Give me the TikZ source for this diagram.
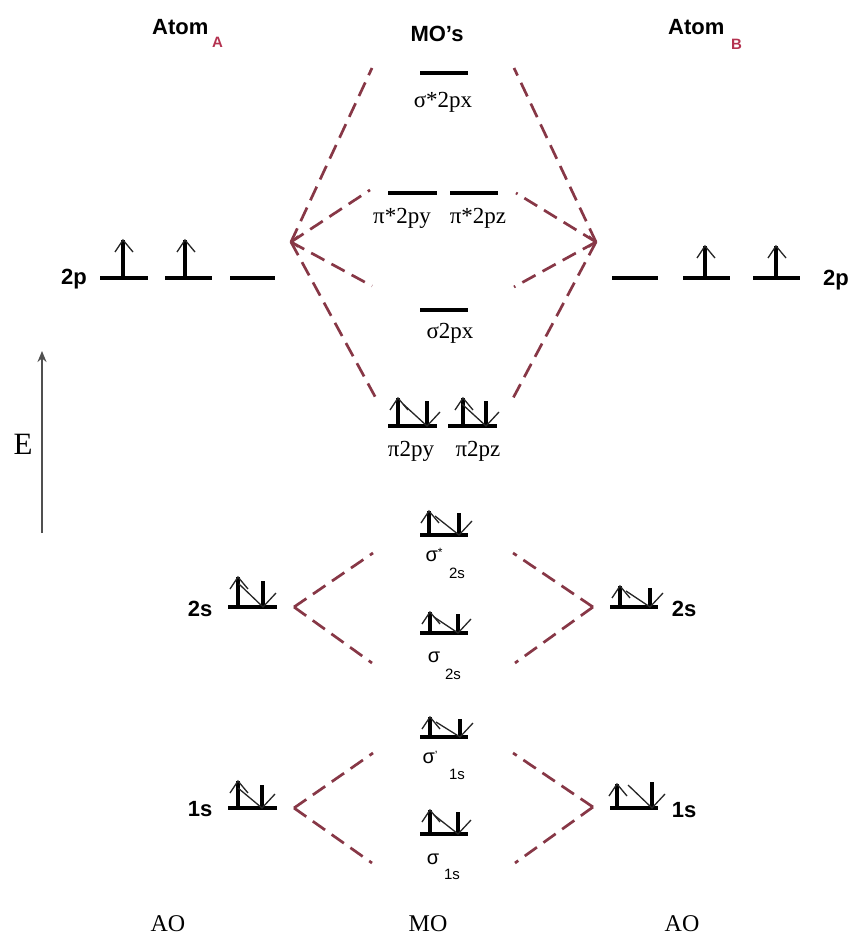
\documentclass[tikz,border=0pt]{standalone}
\usepackage{fontspec}
\setmainfont{Liberation Serif}
\setsansfont{Liberation Sans}
\usetikzlibrary{arrows.meta}
\definecolor{dashc}{RGB}{135,55,70}
\definecolor{subred}{RGB}{180,50,80}
\definecolor{egray}{RGB}{80,80,80}
\tikzset{
  level/.style={line width=3.4pt,black},
  spin/.style={line width=3.8pt,black},
  barb/.style={line width=1.3pt,black!85},
  corr/.style={dashc,line width=2.7pt,dash pattern=on 15pt off 8pt},
  aolab/.style={font=\sffamily\bfseries\fontsize{22}{24}\selectfont,inner sep=0pt},
  title/.style={font=\sffamily\bfseries\fontsize{22}{24}\selectfont,inner sep=0pt},
  subttl/.style={font=\sffamily\bfseries\fontsize{15}{16}\selectfont,inner sep=0pt,text=subred},
  molab/.style={font=\fontsize{23}{25}\selectfont,inner sep=0pt},
  sglab/.style={font=\sffamily\fontsize{20}{22}\selectfont,inner sep=0pt},
  sgsub/.style={font=\sffamily\fontsize{15}{17}\selectfont,inner sep=0pt},
  botlab/.style={font=\fontsize{24}{26}\selectfont,inner sep=0pt}
}
\newcommand\spup[3]{%
  \draw[spin] (#1,#2) -- (#1,#2-#3);
  \draw[barb] (#1-8,#2-#3+12) -- (#1,#2-#3) -- (#1+10,#2-#3+12);}
\newcommand\spdown[3]{%
  \draw[spin] (#1,#2-#3+2) -- (#1,#2);
  \draw[barb] (#1-24,#2-#3+5) -- (#1,#2) -- (#1+13,#2-14);}
\begin{document}
\begin{tikzpicture}[x=1pt,y=-1pt]
\useasboundingbox[fill=white] (0,0) rectangle (851,941);

% titles
\node[title,anchor=base west] (atA) at (152,35) {Atom};
\node[subttl,anchor=base west] (subA) at (212,48) {A};
\node[title] (mos) at (437,34) {MO's};
\node[title,anchor=base west] (atB) at (668,35) {Atom};
\node[subttl,anchor=base west] (subB) at (731,50) {B};

% energy axis
\coordinate (Ebot) at (42,533);
\coordinate (Etop) at (42,351);
\draw[egray,line width=1.6pt,-{Stealth[length=11pt,width=9pt]}] (Ebot) -- (Etop);
\node[font=\fontsize{31}{33}\selectfont,inner sep=0pt] (E) at (23,444) {E};

% ---------- 2p atom A ----------
\node[aolab] (l2pA) at (74,279) {2p};
\draw[level] (100,278) -- (148,278);
\draw[level] (165,278) -- (212,278);
\draw[level] (230,278) -- (275,278);
\spup{123}{278}{38}
\spup{185}{278}{38}
% ---------- 2p atom B ----------
\node[aolab] (l2pB) at (836,280) {2p};
\draw[level] (612,278) -- (658,278);
\draw[level] (683,278) -- (730,278);
\draw[level] (753,278) -- (800,278);
\spup{705}{278}{32}
\spup{776}{278}{32}

% ---------- MOs from 2p ----------
\draw[level] (420,73) -- (468,73);
\node[molab] (ss2px) at (443,102) {σ*2px};
\draw[level] (388,193) -- (437,193);
\draw[level] (450,193) -- (498,193);
\node[molab] (ps2py) at (402,218) {π*2py};
\node[molab] (ps2pz) at (478,218) {π*2pz};
\draw[level] (420,310) -- (468,310);
\node[molab] (s2px) at (450,333) {σ2px};
\draw[level] (388,426) -- (437,426);
\draw[level] (448,426) -- (497,426);
\spup{398}{426}{28}
\spdown{427}{426}{27}
\spup{463}{426}{28}
\spdown{486}{426}{27}
\node[molab] (p2py) at (411,451) {π2py};
\node[molab] (p2pz) at (478,451) {π2pz};

% correlation lines 2p
\coordinate (cA2p) at (291,242);
\coordinate (cB2p) at (596,242);
\coordinate (tA1) at (372,68);
\coordinate (tA2) at (370,190);
\coordinate (tA3) at (372,286);
\coordinate (tA4) at (378,402);
\coordinate (tB1) at (514,68);
\coordinate (tB2) at (516,193);
\coordinate (tB3) at (514,287);
\coordinate (tB4) at (511,402);
\foreach \t in {tA1,tA2,tA3,tA4} \draw[corr] (cA2p) -- (\t);
\foreach \t in {tB1,tB2,tB3,tB4} \draw[corr] (cB2p) -- (\t);
\draw[dashc,line width=1.6pt] ([shift={(7,-6)}]cA2p) -- (cA2p) -- ([shift={(7,5)}]cA2p);
\draw[dashc,line width=1.6pt] ([shift={(-7,-6)}]cB2p) -- (cB2p) -- ([shift={(-7,5)}]cB2p);

% ---------- 2s ----------
\node[aolab] (l2sA) at (200,609) {2s};
\draw[level] (228,607) -- (277,607);
\spup{238}{607}{30}
\spdown{263}{607}{28}
\node[aolab] (l2sB) at (684,609) {2s};
\draw[level] (610,607) -- (658,607);
\spup{620}{607}{21}
\spdown{650}{607}{21}

\draw[level] (420,535) -- (468,535);
\spup{429}{535}{24}
\spdown{459}{535}{24}
\node[sglab] (ss2s) at (434,555) {σ\raisebox{5pt}{\fontsize{12}{12}\selectfont*}};
\node[sgsub] (ss2ssub) at (457,573) {2s};
\draw[level] (420,633) -- (468,633);
\spup{430}{633}{21}
\spdown{458}{633}{21}
\node[sglab] (s2s) at (434,657) {σ};
\node[sgsub] (s2ssub) at (453,674) {2s};

\coordinate (cA2s) at (294,607);
\coordinate (cB2s) at (593,607);
\coordinate (uA2s) at (373,553);
\coordinate (dA2s) at (372,663);
\coordinate (uB2s) at (513,553);
\coordinate (dB2s) at (515,663);
\draw[corr] (cA2s) -- (uA2s);
\draw[corr] (cA2s) -- (dA2s);
\draw[corr] (cB2s) -- (uB2s);
\draw[corr] (cB2s) -- (dB2s);

% ---------- 1s ----------
\node[aolab] (l1sA) at (200,809) {1s};
\draw[level] (228,808) -- (277,808);
\spup{238}{808}{27}
\spdown{262}{808}{25}
\node[aolab] (l1sB) at (684,810) {1s};
\draw[level] (610,808) -- (658,808);
\spup{617}{808}{24}
\spdown{652}{808}{28}

\draw[level] (420,737) -- (468,737);
\spup{430}{737}{20}
\spdown{460}{737}{20}
\node[sglab] (sp1s) at (430,757) {σ\raisebox{4pt}{\fontsize{12}{12}\selectfont'}};
\node[sgsub] (sp1ssub) at (457,774) {1s};
\draw[level] (420,834) -- (468,834);
\spup{430}{834}{24}
\spdown{458}{834}{24}
\node[sglab] (s1s) at (433,859) {σ};
\node[sgsub] (s1ssub) at (452,874) {1s};

\coordinate (cA1s) at (294,808);
\coordinate (cB1s) at (593,807);
\coordinate (uA1s) at (373,753);
\coordinate (dA1s) at (372,863);
\coordinate (uB1s) at (513,753);
\coordinate (dB1s) at (515,863);
\draw[corr] (cA1s) -- (uA1s);
\draw[corr] (cA1s) -- (dA1s);
\draw[corr] (cB1s) -- (uB1s);
\draw[corr] (cB1s) -- (dB1s);

% bottom labels
\node[botlab] (aoA) at (168,924) {AO};
\node[botlab] (mo) at (428,924) {MO};
\node[botlab] (aoB) at (682,924) {AO};
\end{tikzpicture}
\end{document}
